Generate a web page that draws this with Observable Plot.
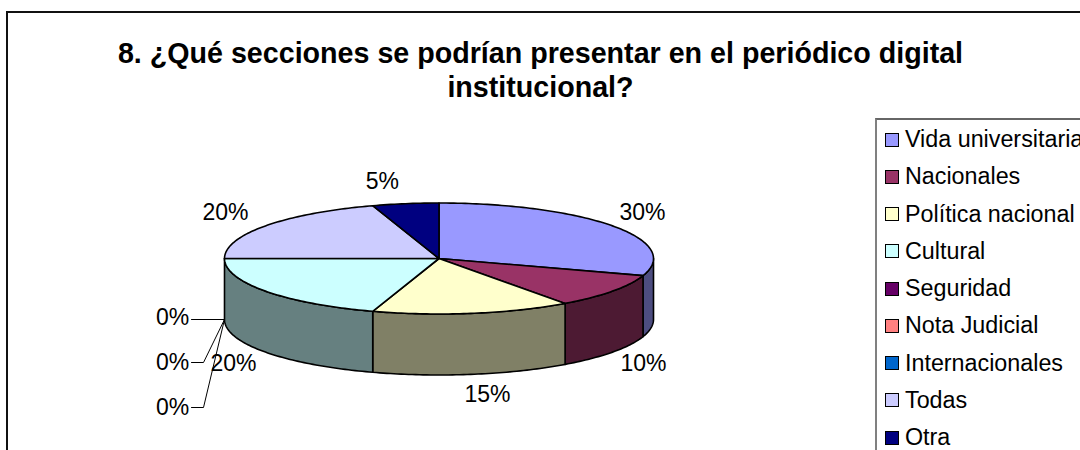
<!DOCTYPE html>
<html><head><meta charset="utf-8">
<script src="https://cdn.jsdelivr.net/npm/d3@7"></script>
<script src="https://cdn.jsdelivr.net/npm/@observablehq/plot@0.6"></script>
<style>
html,body{margin:0;padding:0;background:#fff;overflow:hidden;width:1080px;height:450px;font-family:"Liberation Sans",Arial,sans-serif;color:#000}
#wrap{position:relative;width:1080px;height:450px;overflow:hidden}
#wrap svg{display:block;position:absolute;left:0;top:0;background:transparent}
#frame{position:absolute;left:6px;top:11px;width:1200px;height:600px;border:2px solid #111;box-sizing:border-box}
#title{position:absolute;left:0;top:36px;width:1081px;text-align:center;font-weight:bold;font-size:28.65px;line-height:34px;white-space:pre}
#legend{position:absolute;left:875px;top:118px;width:400px;height:500px;border:2px solid #666;box-sizing:border-box;border-left-color:#808080}
.item{position:absolute;left:8px;height:24px;font-size:23.3px;line-height:24px;white-space:nowrap}
.item i{position:absolute;left:0;top:4.5px;width:14px;height:14px;border:1.5px solid #000;box-sizing:border-box}
.item span{position:absolute;left:20px;top:-1px}
</style></head><body>
<div id="wrap"><div id="frame"></div><div id="title"></div><div id="legend"></div></div>
<script>
const titleLines = ["8. ¿Qué secciones se podrían presentar en el periódico digital", "institucional?"];
const categories = ["Vida universitaria","Nacionales","Política nacional","Cultural","Seguridad","Nota Judicial","Internacionales","Todas","Otra"];
const values = [30,10,15,20,0,0,0,20,5];
const topColors = ["#9999FF","#993366","#FFFFCC","#CCFFFF","#660066","#FF8080","#0066CC","#CCCCFF","#000080"];
const sideColors = ["#4D4D80","#4D1A33","#808066","#668080","#330033","#804040","#003366","#666680","#000040"];
// label offsets from the rim point at each slice's mid angle (pixels)
const labelDx = [30,31,15,-32,-52,-52,-52,-40,-23];
const labelDy = [-13,73,81,73,59,104,149,-13,-22];
const depth = 61/55.5; // pie thickness in units of the vertical radius

const total = d3.sum(values);
let acc = 0;
const slices = values.map((v,i)=>{const a0=acc/total*2*Math.PI; acc+=v; return {i,v,a0,a1:acc/total*2*Math.PI,mid:(a0+v/total*Math.PI)};});
const rim = (a,z=0)=>({x:Math.sin(a),y:-Math.cos(a)+z});
const arc = (a0,a1,z=0)=>{const n=Math.max(1,Math.ceil((a1-a0)/(Math.PI/180)));return d3.range(n+1).map(k=>rim(a0+(a1-a0)*k/n,z));};

const topPolys=[], sidePolys=[];
for(const s of slices){
  if(s.v===0) continue;
  topPolys.push({i:s.i,pts:[{x:0,y:0},...arc(s.a0,s.a1),{x:0,y:0}]});
  const lo=Math.max(s.a0,Math.PI/2), hi=Math.min(s.a1,3*Math.PI/2);
  if(hi>lo){const f=arc(lo,hi),b=arc(lo,hi,depth).reverse();sidePolys.push({i:s.i,pts:[...f,...b,f[0]]});}
}
const polyMark = (ps,cols)=>ps.map(p=>Plot.line(p.pts,{x:"x",y:"y",fill:cols[p.i],stroke:"#000",strokeWidth:1.6,strokeLinejoin:"round",curve:"linear"}));

const sx = 214.5, sy = 55.5; // px per unit
const pct = d3.format(".0%");
const labels = slices.map((s,k)=>{const r=rim(s.mid);return {x:r.x+labelDx[k]/sx,y:r.y+labelDy[k]/sy,t:pct(s.v/total)};});

// leader lines for zero-value labels: start at the lower rim of the slice boundary
const leaders = slices.filter(s=>s.v===0).map(s=>{
  const st=rim(s.mid,depth), lb=labels[s.i];
  const endX=lb.x+19/sx, elbowX=endX+12/sx, isFirst=s.i===4;
  return isFirst?[{x:st.x,y:st.y},{x:endX,y:st.y}]:[{x:st.x,y:st.y},{x:elbowX,y:lb.y},{x:endX,y:lb.y}];
});

const plot = Plot.plot({
  width:1080,height:450,margin:0,
  x:{domain:[-1,1],range:[438.5-sx,438.5+sx],axis:null},
  y:{domain:[-1,1],range:[258-sy,258+sy],axis:null},
  style:{background:"transparent",overflow:"visible"},
  marks:[
    ...polyMark(sidePolys,sideColors),
    ...polyMark(topPolys,topColors),
    ...leaders.map(l=>Plot.line(l,{x:"x",y:"y",stroke:"#000",strokeWidth:1,curve:"linear"})),
    Plot.text(labels,{x:"x",y:"y",text:"t",fontSize:23,fontFamily:"Liberation Sans",fill:"#000"})
  ]
});
document.getElementById("wrap").insertBefore(plot,document.getElementById("title"));
document.getElementById("title").textContent = titleLines.join("\n");
const legend=document.getElementById("legend");
categories.forEach((c,i)=>{
  const d=document.createElement("div");d.className="item";d.style.top=(8+i*37.25)+"px";
  const sw=document.createElement("i");sw.style.background=topColors[i];
  const sp=document.createElement("span");sp.textContent=c;
  d.append(sw,sp);legend.append(d);
});
</script></body></html>
